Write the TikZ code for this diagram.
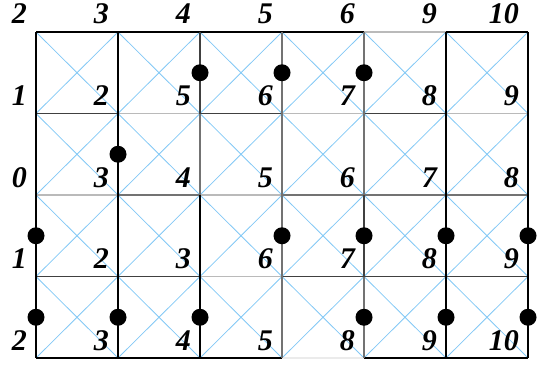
\documentclass[tikz,border=0pt]{standalone}
\usepackage{fontspec}
\setmainfont{Liberation Serif}
\definecolor{diag}{RGB}{130,200,245}
\colorlet{ek}{black}
\colorlet{eD}{black!75}
\colorlet{eM}{black!55}
\colorlet{eL}{black!27}
\colorlet{eV}{black!8}
\tikzset{
  edge/.style={line width=1.3pt},
  diagline/.style={draw=diag, line width=0.8pt},
  lab/.style={anchor=base east, inner sep=0pt, font=\fontsize{30}{30}\selectfont\bfseries\itshape},
  dot/.style={circle, fill=black, minimum size=17pt, inner sep=0pt}
}
\begin{document}
\begin{tikzpicture}[x=82pt,y=-81.5pt]
\useasboundingbox (-0.43902,-0.39264) rectangle (6.10976,4.13497);
% vertices
\foreach \i in {0,...,6} {
  \foreach \j in {0,...,4} {
    \coordinate (v-\i-\j) at (\i,\j);
  }
}
% diagonals
\foreach \i in {0,...,5} {
  \foreach \j in {0,...,3} {
    \pgfmathtruncatemacro\ii{\i+1}
    \pgfmathtruncatemacro\jj{\j+1}
    \draw[diagline] (v-\i-\j) -- (v-\ii-\jj);
    \draw[diagline] (v-\ii-\j) -- (v-\i-\jj);
  }
}
% horizontal edges
\foreach \row [count=\jc from 0] in {{k,k,k,k,L,k},{D,L,D,L,D,L},{L,M,L,M,M,M},{D,D,L,D,D,D},{k,k,k,V,k,k}} {
  \foreach \c [count=\ic from 0] in \row {
    \pgfmathtruncatemacro\ii{\ic+1}
    \draw[edge,e\c] (v-\ic-\jc) -- (v-\ii-\jc);
  }
}
% vertical edges
\foreach \col [count=\ic from 0] in {{k,k,k,k},{k,k,k,k},{D,M,k,k},{M,M,M,M},{M,M,D,M},{k,k,k,k},{k,k,k,k}} {
  \foreach \c [count=\jc from 0] in \col {
    \pgfmathtruncatemacro\jj{\jc+1}
    \draw[edge,e\c] (v-\ic-\jc) -- (v-\ic-\jj);
  }
}
% dots
\foreach \p [count=\k] in {(2,0.5),(3,0.5),(4,0.5),(1,1.5),(0,2.5),(3,2.5),(4,2.5),(5,2.5),(6,2.5),(0,3.5),(1,3.5),(2,3.5),(4,3.5),(5,3.5),(6,3.5)} {
  \node[dot] (d-\k) at \p {};
}
% labels
\foreach \row [count=\jc from 0] in {{2,3,4,5,6,9,10},{1,2,5,6,7,8,9},{0,3,4,5,6,7,8},{1,2,3,6,7,8,9},{2,3,4,5,8,9,10}} {
  \foreach \n [count=\ic from 0] in \row {
    \node[lab] (l-\ic-\jc) at ([shift={(-9pt,8pt)}]v-\ic-\jc) {\n};
  }
}
\end{tikzpicture}
\end{document}
